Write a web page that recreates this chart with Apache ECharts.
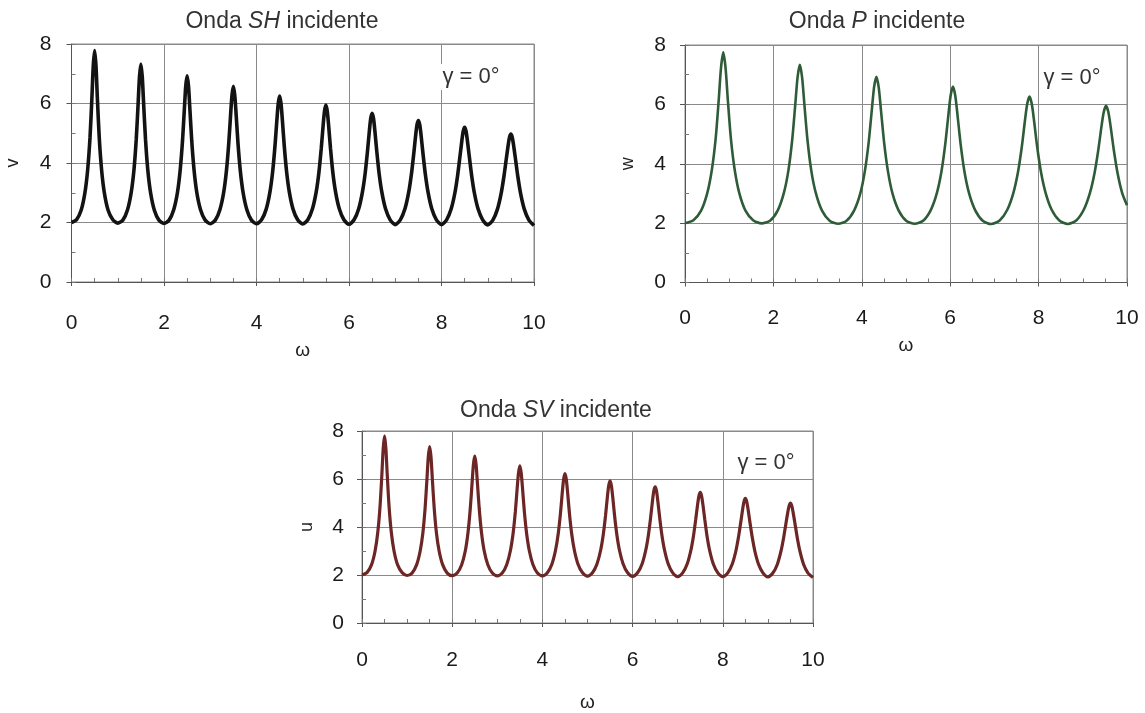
<!DOCTYPE html>
<html><head><meta charset="utf-8">
<script src="https://cdn.jsdelivr.net/npm/echarts@6/dist/echarts.min.js"></script>
<style>html,body{margin:0;padding:0;background:#fff}#c{width:1145px;height:713px}</style>
</head><body><div id="c"></div>
<script>
// ---- data ----
// omega samples for SH and SV curves (peaks at 0.5, 1.5, ...)
const omegaS = [
  0,0.11,0.21,0.29,0.35,0.40,0.44,0.47,0.50,0.53,0.56,0.60,0.65,0.71,0.79,0.89,
  1,1.11,1.21,1.29,1.35,1.40,1.44,1.47,1.50,1.53,1.56,1.60,1.65,1.71,1.79,1.89,
  2,2.11,2.21,2.29,2.35,2.40,2.44,2.47,2.50,2.53,2.56,2.60,2.65,2.71,2.79,2.89,
  3,3.11,3.21,3.29,3.35,3.40,3.44,3.47,3.50,3.53,3.56,3.60,3.65,3.71,3.79,3.89,
  4,4.11,4.21,4.29,4.35,4.40,4.44,4.47,4.50,4.53,4.56,4.60,4.65,4.71,4.79,4.89,
  5,5.11,5.21,5.29,5.35,5.40,5.44,5.47,5.50,5.53,5.56,5.60,5.65,5.71,5.79,5.89,
  6,6.11,6.21,6.29,6.35,6.40,6.44,6.47,6.50,6.53,6.56,6.60,6.65,6.71,6.79,6.89,
  7,7.11,7.21,7.29,7.35,7.40,7.44,7.47,7.50,7.53,7.56,7.60,7.65,7.71,7.79,7.89,
  8,8.11,8.21,8.29,8.35,8.40,8.44,8.47,8.50,8.53,8.56,8.60,8.65,8.71,8.79,8.89,
  9,9.11,9.21,9.29,9.35,9.40,9.44,9.47,9.50,9.53,9.56,9.60,9.65,9.71,9.79,9.89,
  10
];
const shV = [
  2.00,2.10,2.42,3.00,3.78,4.85,6.15,7.25,7.78,7.25,6.15,4.85,3.78,3.00,2.42,2.10,
  1.98,2.08,2.42,3.00,3.76,4.80,5.98,6.90,7.33,6.90,5.98,4.80,3.76,3.00,2.42,2.08,
  1.97,2.08,2.43,3.00,3.76,4.74,5.80,6.58,6.93,6.58,5.80,4.74,3.76,3.00,2.43,2.08,
  1.96,2.08,2.44,3.01,3.74,4.66,5.62,6.28,6.58,6.28,5.62,4.66,3.74,3.01,2.44,2.08,
  1.96,2.09,2.45,3.02,3.72,4.58,5.43,6.00,6.25,6.00,5.43,4.58,3.72,3.02,2.45,2.09,
  1.95,2.09,2.46,3.02,3.69,4.49,5.25,5.74,5.95,5.74,5.25,4.49,3.69,3.02,2.46,2.09,
  1.94,2.09,2.46,3.02,3.66,4.40,5.07,5.50,5.67,5.50,5.07,4.40,3.66,3.02,2.46,2.09,
  1.93,2.09,2.46,3.01,3.63,4.31,4.91,5.28,5.43,5.28,4.91,4.31,3.63,3.01,2.46,2.09,
  1.93,2.09,2.46,3.00,3.60,4.23,4.75,5.07,5.20,5.07,4.75,4.23,3.60,3.00,2.46,2.09,
  1.92,2.08,2.45,2.98,3.55,4.13,4.58,4.86,4.97,4.86,4.58,4.13,3.55,2.98,2.45,2.08,
  1.90
];
const svU = [
  2.00,2.10,2.42,3.00,3.78,4.86,6.16,7.27,7.80,7.27,6.16,4.86,3.78,3.00,2.42,2.10,
  1.98,2.08,2.42,3.00,3.76,4.81,5.99,6.92,7.35,6.92,5.99,4.81,3.76,3.00,2.42,2.08,
  1.97,2.08,2.43,3.00,3.76,4.75,5.81,6.60,6.95,6.60,5.81,4.75,3.76,3.00,2.43,2.08,
  1.96,2.08,2.44,3.01,3.73,4.64,5.60,6.25,6.55,6.25,5.60,4.64,3.73,3.01,2.44,2.08,
  1.96,2.09,2.45,3.02,3.71,4.56,5.42,5.98,6.22,5.98,5.42,4.56,3.71,3.02,2.45,2.09,
  1.95,2.09,2.46,3.02,3.69,4.48,5.24,5.72,5.92,5.72,5.24,4.48,3.69,3.02,2.46,2.09,
  1.94,2.09,2.46,3.02,3.66,4.40,5.07,5.50,5.67,5.50,5.07,4.40,3.66,3.02,2.46,2.09,
  1.93,2.09,2.46,3.01,3.63,4.32,4.92,5.29,5.44,5.29,4.92,4.32,3.63,3.01,2.46,2.09,
  1.93,2.09,2.46,3.00,3.60,4.22,4.74,5.06,5.19,5.06,4.74,4.22,3.60,3.00,2.46,2.09,
  1.92,2.08,2.45,2.99,3.56,4.15,4.60,4.88,5.00,4.88,4.60,4.15,3.56,2.99,2.45,2.08,
  1.90
];
// omega samples for P curve (peaks near 0.866, 2.598, ...)
const omegaP = [
  0,0.191,0.364,0.502,0.606,0.693,0.762,0.814,0.866,0.918,0.970,1.039,1.126,1.230,1.368,1.541,
  1.732,1.923,2.096,2.234,2.338,2.425,2.494,2.546,2.598,2.650,2.702,2.771,2.858,2.962,3.100,3.273,
  3.464,3.655,3.828,3.966,4.070,4.157,4.226,4.278,4.330,4.382,4.434,4.503,4.590,4.694,4.832,5.005,
  5.196,5.387,5.560,5.698,5.802,5.889,5.958,6.010,6.062,6.114,6.166,6.235,6.322,6.426,6.564,6.737,
  6.928,7.119,7.292,7.430,7.534,7.621,7.690,7.742,7.794,7.846,7.898,7.967,8.054,8.158,8.296,8.469,
  8.660,8.851,9.024,9.162,9.266,9.353,9.422,9.474,9.526,9.578,9.630,9.699,9.786,9.890,10
];
const pW = [
  2.00,2.10,2.42,3.00,3.78,4.84,6.13,7.22,7.75,7.22,6.13,4.84,3.78,3.00,2.42,2.10,
  1.99,2.08,2.42,3.00,3.76,4.80,5.98,6.90,7.33,6.90,5.98,4.80,3.76,3.00,2.42,2.08,
  1.98,2.08,2.43,3.00,3.76,4.74,5.80,6.58,6.93,6.58,5.80,4.74,3.76,3.00,2.43,2.08,
  1.98,2.08,2.44,3.01,3.74,4.67,5.63,6.30,6.60,6.30,5.63,4.67,3.74,3.01,2.44,2.08,
  1.97,2.09,2.45,3.02,3.72,4.58,5.44,6.01,6.26,6.01,5.44,4.58,3.72,3.02,2.45,2.09,
  1.97,2.09,2.46,3.02,3.69,4.49,5.25,5.74,5.95,5.74,5.25,4.49,3.69,3.02,2.60
];

const titles = ['Onda {i|SH} incidente', 'Onda {i|P} incidente', 'Onda {i|SV} incidente'];
const yNames = ['v', 'w', 'u'];
const xName = 'ω';
const angleText = 'γ = 0°';

// ---- layout / style ----
const FONT = '"Liberation Sans", Arial, Helvetica, sans-serif';
const LABEL = 21, TITLE = 23;
const panels = [
  {left: 71.5, top: 44, width: 462.5, height: 238, yName: yNames[0], color: '#131313', lw: 3.6,
   x: omegaS, y: shV, title: titles[0], tx: 277, ty: 5, xMargin: 31, xNameGap: 59, yNameGap: 49, yMargin: 20, gx: 471, gy: 77},
  {left: 685, top: 45, width: 442, height: 237.5, yName: yNames[1], color: '#2e5c38', lw: 2.6,
   x: omegaP, y: pW, title: titles[1], tx: 872, ty: 5, xMargin: 25, xNameGap: 54, yNameGap: 48, yMargin: 19, gx: 1072, gy: 78},
  {left: 362, top: 431, width: 451, height: 195, yName: yNames[2], color: '#6c2626', lw: 3.2,
   x: omegaS, y: svU, title: titles[2], tx: 551, ty: 394, xMargin: 27, xNameGap: 70, yNameGap: 46, yMargin: 18, gx: 766, gy: 463}
];

const grid = [], xAxis = [], yAxis = [], series = [], title = [], graphic = [];
const gridColor = '#8a8a8a', axisColor = '#555';
panels.forEach((p, i) => {
  grid.push({left: p.left, top: p.top, width: p.width, height: p.height, show: true,
    borderColor: gridColor, borderWidth: 1, backgroundColor: 'transparent'});
  xAxis.push({
    gridIndex: i, type: 'value', min: 0, max: 10, interval: 2, position: 'bottom',
    axisLine: {show: true, onZero: false, lineStyle: {color: axisColor, width: 1}},
    axisTick: {show: true, inside: false, length: 4, lineStyle: {color: axisColor}},
    axisLabel: {margin: p.xMargin, fontSize: LABEL, color: '#1a1a1a', fontFamily: FONT},
    splitLine: {show: true, lineStyle: {color: gridColor, width: 1}},
    name: xName, nameLocation: 'middle', nameGap: p.xNameGap,
    nameTextStyle: {fontSize: 19, color: '#222', fontFamily: FONT}
  });
  xAxis.push({
    gridIndex: i, type: 'value', min: 0, max: 10, interval: 0.5, position: 'bottom',
    axisLine: {show: false}, axisTick: {show: true, inside: true, length: 4, lineStyle: {color: '#777'}},
    axisLabel: {show: false}, splitLine: {show: false}
  });
  yAxis.push({
    gridIndex: i, type: 'value', min: 0, max: 8, interval: 2, position: 'left',
    axisLine: {show: true, onZero: false, lineStyle: {color: axisColor, width: 1}},
    axisTick: {show: true, inside: false, length: 5, lineStyle: {color: axisColor}},
    axisLabel: {margin: p.yMargin, fontSize: LABEL, color: '#1a1a1a', fontFamily: FONT},
    splitLine: {show: true, lineStyle: {color: gridColor, width: 1}},
    name: p.yName, nameLocation: 'middle', nameGap: p.yNameGap, nameRotate: 90,
    nameTextStyle: {fontSize: 18, color: '#222', fontFamily: FONT}
  });
  yAxis.push({
    gridIndex: i, type: 'value', min: 0, max: 8, interval: 1, position: 'left',
    axisLine: {show: false}, axisTick: {show: true, inside: true, length: 4, lineStyle: {color: '#777'}},
    axisLabel: {show: false}, splitLine: {show: false}
  });
  series.push({
    type: 'line', xAxisIndex: 2 * i, yAxisIndex: 2 * i,
    data: p.x.map((w, k) => [w, p.y[k]]),
    showSymbol: false, smooth: 0.25, silent: true, animation: false,
    lineStyle: {color: p.color, width: p.lw}
  });
  title.push({
    text: p.title, left: p.tx, top: p.ty, textAlign: 'center',
    textStyle: {fontSize: TITLE, fontWeight: 'normal', color: '#333', fontFamily: FONT,
      rich: {i: {fontStyle: 'italic', fontSize: TITLE, color: '#333', fontFamily: FONT}}}
  });
  graphic.push({
    type: 'text', x: p.gx, y: p.gy, z: 100,
    style: {text: angleText, fontSize: 22, fontFamily: FONT, fill: '#333',
      align: 'center', verticalAlign: 'middle', backgroundColor: '#fff', padding: [2, 4]}
  });
});

const chart = echarts.init(document.getElementById('c'), null, {renderer: 'canvas'});
chart.setOption({
  animation: false, backgroundColor: '#fff',
  title, grid, xAxis, yAxis, series, graphic
});
</script></body></html>
